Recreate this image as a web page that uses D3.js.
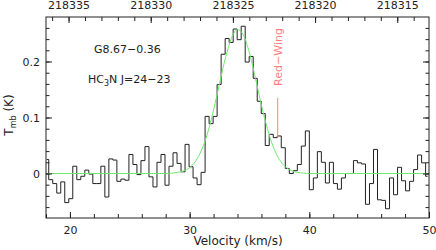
<!DOCTYPE html>
<html>
<head>
<meta charset="utf-8">
<script src="https://cdn.jsdelivr.net/npm/d3@7"></script>
<style>
  body { margin: 0; background: #fff; }
  svg text { font-family: "DejaVu Sans", sans-serif; fill: #222; }
</style>
</head>
<body>
<svg id="chart" width="436" height="250"></svg>
<script>
// spectrum channels (centre of first channel, channel width in km/s)
const velStart = 18.06;
const chanWidth = 0.335;
const tmb = [
  0.025, -0.011, -0.018, -0.035, -0.015, -0.052, -0.045, 0.013, -0.011, -0.005,
  0.006, -0.001, -0.018, -0.018, 0.013, -0.042, 0.026, 0.024, -0.014, -0.010,
  -0.012, 0.034, 0.016, -0.002, 0.023, 0.048, -0.006, -0.024, 0.020, 0.034,
  -0.021, 0.013, 0.037, 0.018, 0.003, 0.052, 0.012, -0.008, -0.020, 0.002,
  0.102, 0.089, 0.102, 0.159, 0.213, 0.241, 0.234, 0.258, 0.239, 0.263,
  0.199, 0.209, 0.170, 0.129, 0.107, 0.050, 0.070, 0.064, 0.067, 0.046,
  0.009, 0.000, 0.005, 0.016, 0.049, 0.076, -0.029, -0.008, 0.039, 0.020,
  -0.017, 0.020, -0.018, -0.028, -0.008, 0.000, 0.000, 0.023, 0.019, 0.017,
  -0.055, -0.018, 0.043, -0.047, -0.048, -0.063, -0.008, -0.038, 0.011, -0.013,
  -0.031, -0.014, 0.007, 0.033, 0.019, -0.005
];

// gaussian fit (green)
const fitVel = [18, 28, 29, 29.5, 30, 30.5, 31, 31.5, 32, 32.5, 33, 33.5, 34, 34.5,
  35, 35.5, 36, 36.5, 37, 37.5, 38, 38.5, 39, 39.5, 40, 50];
const fitTmb = [0, 0, 0.002, 0.0045, 0.0105, 0.022, 0.042, 0.072, 0.113, 0.161, 0.207, 0.242, 0.257, 0.247,
  0.215, 0.170, 0.122, 0.080, 0.047, 0.025, 0.012, 0.0054, 0.002, 0.0007, 0, 0];

// red wing marker
const wingVel = 37.36;
const wingTmb = [0.064, 0.135];
const wingLabel = "Red\u2212Wing";

// top axis: rest frequency (MHz) at the reference velocity
const restFreq = 218324.72;
const refVel = 34.0;
const cLight = 299792.458;

const velTicks = [20, 30, 40, 50];
const tmbTicks = [0, 0.1, 0.2];
const freqTicks = [218335, 218330, 218325, 218320, 218315];

const width = 436, height = 250;
const margin = {top: 17, right: 7, bottom: 32, left: 46};

const svg = d3.select("#chart");

const x = d3.scaleLinear().domain([18, 50]).range([margin.left, width - margin.right]);
const y = d3.scaleLinear().domain([-0.0795, 0.2795]).range([height - margin.bottom, margin.top]);

const velToFreq = v => restFreq * (1 - (v - refVel) / cLight);
const xf = d3.scaleLinear().domain([velToFreq(18), velToFreq(50)]).range(x.range());

const chans = tmb.map((t, i) => ({v: velStart + i * chanWidth, t: t}));
const fit = fitVel.map((v, i) => ({v: v, t: fitTmb[i]}));

svg.append("clipPath").attr("id", "plotclip")
  .append("rect")
  .attr("x", x(18)).attr("y", y(0.2795))
  .attr("width", x(50) - x(18)).attr("height", y(-0.0795) - y(0.2795));

const plot = svg.append("g").attr("clip-path", "url(#plotclip)");

// histogram
plot.append("path")
  .datum(chans)
  .attr("fill", "none")
  .attr("stroke", "#222")
  .attr("stroke-width", 1)
  .attr("d", d3.line().x(d => x(d.v)).y(d => y(d.t)).curve(d3.curveStep));

// fit
plot.append("path")
  .datum(fit)
  .attr("fill", "none")
  .attr("stroke", "#6fe86f")
  .attr("stroke-width", 1)
  .attr("d", d3.line().x(d => x(d.v)).y(d => y(d.t)).curve(d3.curveMonotoneX));

// red wing
svg.append("line")
  .attr("x1", x(wingVel)).attr("x2", x(wingVel))
  .attr("y1", y(wingTmb[0])).attr("y2", y(wingTmb[1]))
  .attr("stroke", "#ff7f7f").attr("stroke-width", 1);

svg.append("text")
  .attr("transform", `translate(${x(wingVel) + 4},57) rotate(-90)`)
  .attr("text-anchor", "middle")
  .style("font-size", "11px")
  .style("fill", "#ff7f7f")
  .text(wingLabel);

// axes
function styleAxis(g) {
  g.select(".domain").remove();
  g.selectAll(".tick line").attr("stroke", "#222");
  g.selectAll(".tick text").style("font-size", "11px").style("fill", "#222")
    .attr("font-family", null);
}

const plotBottom = y(-0.0795), plotTop = y(0.2795);

svg.append("g").attr("transform", `translate(0,${plotBottom})`)
  .call(d3.axisBottom(x).tickValues(d3.range(18, 51, 2)).tickSize(-4).tickFormat(""))
  .call(styleAxis);
svg.append("g").attr("transform", `translate(0,${plotBottom})`)
  .call(d3.axisBottom(x).tickValues(velTicks).tickSize(-6).tickPadding(8).tickFormat(d3.format("d")))
  .call(styleAxis);

svg.append("g").attr("transform", `translate(0,${plotTop})`)
  .call(d3.axisTop(xf).tickValues(d3.range(218314, 218337, 1)).tickSize(-4).tickFormat(""))
  .call(styleAxis);
svg.append("g").attr("transform", `translate(0,${plotTop})`)
  .call(d3.axisTop(xf).tickValues(freqTicks).tickSize(-6).tickPadding(8).tickFormat(d3.format("d")))
  .call(styleAxis);

const minorT = d3.range(-0.06, 0.27, 0.02);
svg.append("g").attr("transform", `translate(${x(18)},0)`)
  .call(d3.axisLeft(y).tickValues(minorT).tickSize(-3.5).tickFormat(""))
  .call(styleAxis);
svg.append("g").attr("transform", `translate(${x(18)},0)`)
  .call(d3.axisLeft(y).tickValues(tmbTicks).tickSize(-6).tickPadding(6).tickFormat(d => d === 0 ? "0" : d3.format(".1f")(d)))
  .call(styleAxis);
svg.append("g").attr("transform", `translate(${x(50)},0)`)
  .call(d3.axisRight(y).tickValues(minorT).tickSize(-3.5).tickFormat(""))
  .call(styleAxis);
svg.append("g").attr("transform", `translate(${x(50)},0)`)
  .call(d3.axisRight(y).tickValues(tmbTicks).tickSize(-6).tickFormat(""))
  .call(styleAxis);

// frame
svg.append("rect")
  .attr("x", x(18)).attr("y", plotTop)
  .attr("width", x(50) - x(18)).attr("height", plotBottom - plotTop)
  .attr("fill", "none").attr("stroke", "#222").attr("stroke-width", 1);

// labels
svg.append("text")
  .attr("x", (x(18) + x(50)) / 2 + 0.5).attr("y", 245)
  .attr("text-anchor", "middle")
  .style("font-size", "12px")
  .text("Velocity (km/s)");

const ylab = svg.append("text")
  .attr("transform", "translate(13,115) rotate(-90)")
  .attr("text-anchor", "middle")
  .style("font-size", "12px");
ylab.append("tspan").text("T");
ylab.append("tspan").attr("dy", 3).style("font-size", "8px").text("mb");
ylab.append("tspan").attr("dy", -3).text(" (K)");

svg.append("text")
  .attr("x", 94).attr("y", 53)
  .style("font-size", "11px")
  .text("G8.67\u22120.36");

const line2 = svg.append("text")
  .attr("x", 88).attr("y", 83)
  .style("font-size", "11px");
line2.append("tspan").text("HC");
line2.append("tspan").attr("dy", 3).style("font-size", "8px").text("3");
line2.append("tspan").attr("dy", -3).text("N J=24\u221223");
</script>
</body>
</html>
